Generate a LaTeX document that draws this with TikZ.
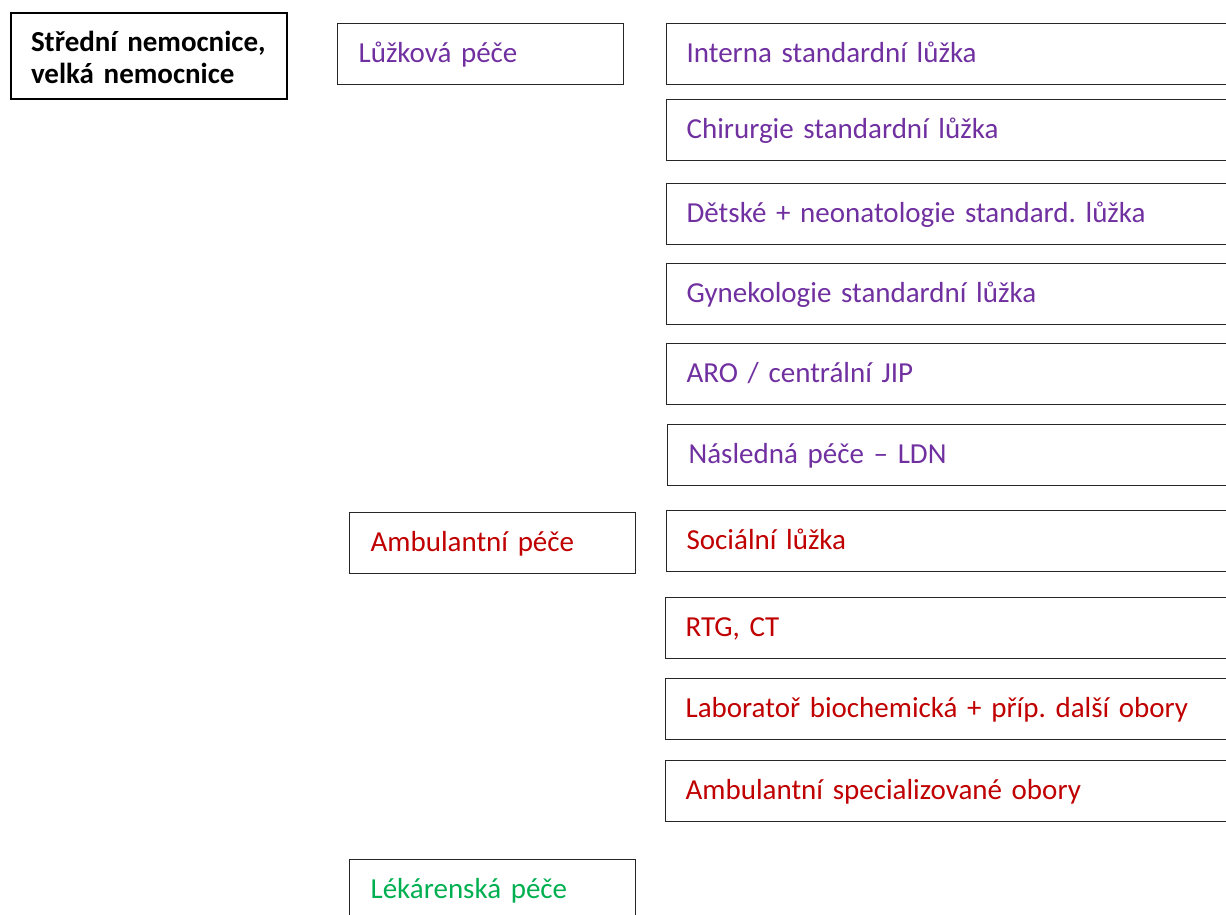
\documentclass[tikz,border=0pt]{standalone}
\usepackage{fontspec}
\setmainfont{Carlito}
\frenchspacing
\definecolor{cpurple}{RGB}{112,48,160}
\definecolor{cred}{RGB}{192,0,0}
\definecolor{cgreen}{RGB}{0,176,80}
\begin{document}
\begin{tikzpicture}[x=1pt,y=-1pt,
  box/.style={draw=black!85, line width=1.2pt, anchor=north west, minimum height=61pt,
    inner xsep=0pt, inner ysep=0pt, align=left, font=\fontsize{29}{32}\selectfont\frenchspacing,
    text height=22pt, text depth=5pt},
  catbox/.style={box, minimum width=286pt, text width=244pt},
  itembox/.style={box, minimum width=600pt, text width=560pt},
  titlebox/.style={draw=black, line width=2pt, anchor=north west, minimum width=276pt,
    minimum height=86pt, inner xsep=0pt, inner ysep=0pt, align=left, text width=236pt,
    text height=10pt, text depth=18pt,
    font=\fontsize{29}{32}\selectfont\bfseries}
]
\useasboundingbox (0,0) rectangle (1226,915);
\clip (0,0) rectangle (1226,915);
\node[titlebox] (title) at (10,12) {Střední nemocnice,\\velká nemocnice};
\node[catbox, text=cpurple] (luz) at (337,23) {Lůžková péče};
\node[catbox, text=cred] (amb) at (349,512) {Ambulantní péče};
\node[catbox, text=cgreen] (lek) at (349,859) {Lékárenská péče};
\node[itembox, text=cpurple] (i1) at (666,23) {Interna standardní lůžka};
\node[itembox, text=cpurple] (i2) at (666,99) {Chirurgie standardní lůžka};
\node[itembox, text=cpurple] (i3) at (666,183) {Dětské + neonatologie standard. lůžka};
\node[itembox, text=cpurple] (i4) at (666,263) {Gynekologie standardní lůžka};
\node[itembox, text=cpurple] (i5) at (666,343) {ARO / centrální JIP};
\node[itembox, text=cpurple] (i6) at (667,424) {\hspace*{1pt}Následná péče – LDN};
\node[itembox, text=cred] (i7) at (666,510) {Sociální lůžka};
\node[itembox, text=cred] (i8) at (665,597) {RTG, CT};
\node[itembox, text=cred] (i9) at (665,678) {Laboratoř biochemická + příp. další obory};
\node[itembox, text=cred] (i10) at (665,760) {Ambulantní specializované obory};
\end{tikzpicture}
\end{document}
